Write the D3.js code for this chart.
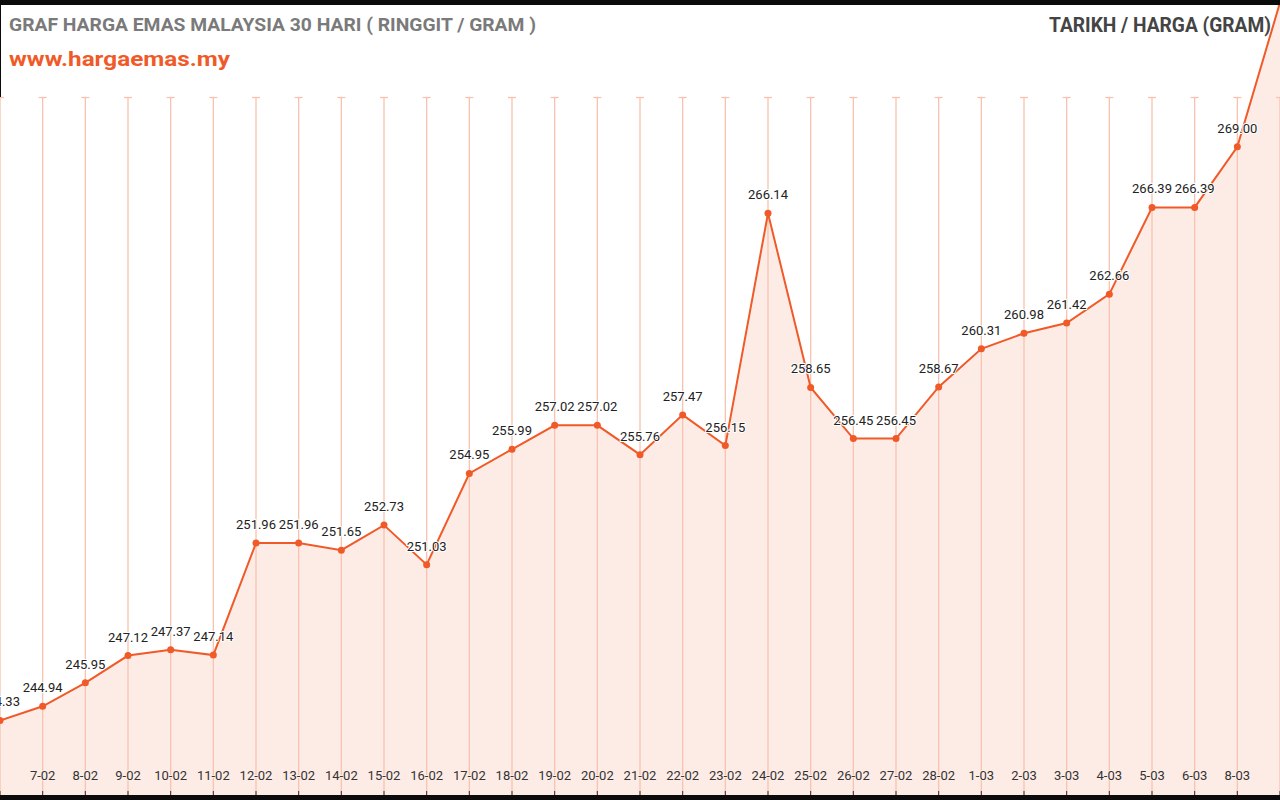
<!DOCTYPE html>
<html>
<head>
<meta charset="utf-8">
<script src="https://cdn.jsdelivr.net/npm/d3@7"></script>
<style>
  body { margin: 0; background: #000; }
  svg { display: block; font-family: Roboto, "Noto Sans", sans-serif; }
</style>
</head>
<body>
<div id="chart"></div>
<script>
// dates shown on the x axis (7-03 has no data), last point is cut off at the right edge
const dates = ["6-02", "7-02", "8-02", "9-02", "10-02", "11-02", "12-02", "13-02", "14-02", "15-02",
  "16-02", "17-02", "18-02", "19-02", "20-02", "21-02", "22-02", "23-02", "24-02", "25-02",
  "26-02", "27-02", "28-02", "1-03", "2-03", "3-03", "4-03", "5-03", "6-03", "8-03", "9-03"];
const prices = [244.33, 244.94, 245.95, 247.12, 247.37, 247.14, 251.96, 251.96, 251.65, 252.73,
  251.03, 254.95, 255.99, 257.02, 257.02, 255.76, 257.47, 256.15, 266.14, 258.65,
  256.45, 256.45, 258.67, 260.31, 260.98, 261.42, 262.66, 266.39, 266.39, 269.00, 275.2];

const titleText = "GRAF HARGA EMAS MALAYSIA 30 HARI ( RINGGIT / GRAM )";
const siteText = "www.hargaemas.my";
const legendText = "TARIKH / HARGA (GRAM)";

const width = 1280;
const height = 800;
const orange = "#f05a28";

const data = dates.map((d, i) => ({ date: d, price: prices[i], i }));
const last = dates.length - 1;

const svg = d3.select("#chart").append("svg")
  .attr("width", width)
  .attr("height", height);

const x = d3.scaleLinear().domain([0, last]).range([0, width]);
const y = d3.scaleLinear().domain([240.91, 275.31]).range([height, 0]);

svg.append("defs").append("clipPath").attr("id", "plot")
  .append("rect").attr("x", 0).attr("y", 5).attr("width", width).attr("height", 790);

// white page
svg.append("rect").attr("x", 0).attr("y", 5).attr("width", width).attr("height", 790).attr("fill", "#fff");

const plot = svg.append("g").attr("clip-path", "url(#plot)");

const area = d3.area()
  .x(d => x(d.i))
  .y0(height)
  .y1(d => y(d.price));

plot.append("path")
  .datum(data)
  .attr("fill", "#fdece6")
  .attr("d", area);

// vertical grid lines with a small cap at the top
const grid = plot.append("g");
grid.selectAll(".vline").data(data)
  .join("line")
  .attr("class", "vline")
  .attr("x1", d => x(d.i)).attr("x2", d => x(d.i))
  .attr("y1", 97).attr("y2", 795)
  .attr("stroke", "#f9c2ae")
  .attr("stroke-width", 1.3);
grid.selectAll(".cap").data(data)
  .join("line")
  .attr("class", "cap")
  .attr("x1", d => x(d.i) - 4).attr("x2", d => x(d.i) + 4)
  .attr("y1", 97.5).attr("y2", 97.5)
  .attr("stroke", "#f9c2ae")
  .attr("stroke-width", 1.3);
grid.selectAll(".tick").data(data)
  .join("line")
  .attr("class", "tick")
  .attr("x1", d => x(d.i)).attr("x2", d => x(d.i))
  .attr("y1", 791).attr("y2", 795)
  .attr("stroke", "#333")
  .attr("stroke-width", 1);

const line = d3.line()
  .x(d => x(d.i))
  .y(d => y(d.price));

plot.append("path")
  .datum(data)
  .attr("fill", "none")
  .attr("stroke", orange)
  .attr("stroke-width", 2)
  .attr("d", line);

plot.selectAll(".dot").data(data)
  .join("circle")
  .attr("class", "dot")
  .attr("cx", d => x(d.i))
  .attr("cy", d => y(d.price))
  .attr("r", 3.5)
  .attr("fill", orange);

// value labels (the last point's label is off screen)
plot.selectAll(".val").data(data.filter(d => d.i < last))
  .join("text")
  .attr("class", "val")
  .attr("x", d => x(d.i))
  .attr("y", d => y(d.price) - 14)
  .attr("text-anchor", "middle")
  .attr("font-size", 13)
  .attr("fill", "#222")
  .attr("stroke", "#fff")
  .attr("stroke-width", 2)
  .attr("paint-order", "stroke")
  .text(d => d.price.toFixed(2));

// date labels (first and last fall off the edges)
plot.selectAll(".date").data(data.filter(d => d.i > 0 && d.i < last))
  .join("text")
  .attr("class", "date")
  .attr("x", d => x(d.i))
  .attr("y", 780)
  .attr("text-anchor", "middle")
  .attr("font-size", 13)
  .attr("fill", "#333")
  .attr("stroke", "#fdece6")
  .attr("stroke-width", 2)
  .attr("paint-order", "stroke")
  .text(d => d.date);

// header
svg.append("text")
  .attr("x", 9).attr("y", 31)
  .attr("font-size", 17.5).attr("font-weight", "bold")
  .attr("fill", "#7a7a7a")
  .attr("textLength", 527).attr("lengthAdjust", "spacingAndGlyphs")
  .text(titleText);

svg.append("text")
  .attr("x", 9).attr("y", 66)
  .attr("font-size", 21).attr("font-weight", "bold")
  .attr("fill", orange)
  .attr("textLength", 221).attr("lengthAdjust", "spacingAndGlyphs")
  .text(siteText);

svg.append("text")
  .attr("x", 1049).attr("y", 32)
  .attr("font-size", 19.5).attr("font-weight", "bold")
  .attr("fill", "#444")
  .attr("textLength", 222).attr("lengthAdjust", "spacingAndGlyphs")
  .text(legendText);

// black frame bits
svg.append("rect").attr("x", 0).attr("y", 0).attr("width", width).attr("height", 5).attr("fill", "#0b0b0b");
svg.append("rect").attr("x", 0).attr("y", 795).attr("width", width).attr("height", 5).attr("fill", "#0b0b0b");
svg.append("rect").attr("x", 0).attr("y", 0).attr("width", 1).attr("height", 97).attr("fill", "#0b0b0b");
</script>
</body>
</html>
